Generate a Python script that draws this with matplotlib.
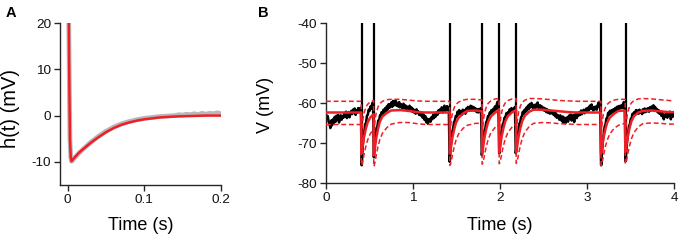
import numpy as np
import matplotlib
matplotlib.use("Agg")
import matplotlib.pyplot as plt

plt.rcParams['font.family'] = ['Liberation Sans', 'DejaVu Sans']
plt.rcParams['axes.unicode_minus'] = False

# ---------------- Panel A data ----------------
kern_t = [0, 0.001, 0.0015, 0.002, 0.0025, 0.003, 0.004, 0.005, 0.006, 0.008, 0.01, 0.015,
          0.02, 0.03, 0.04, 0.05, 0.06, 0.07, 0.08, 0.09, 0.1, 0.12, 0.14, 0.16, 0.18, 0.2]
kern_fit = [40, 30, 20, 10, 2, -5, -9, -9.9, -9.7, -9.3, -8.9, -8.0,
            -7.3, -5.9, -4.7, -3.6, -2.7, -2.0, -1.5, -1.1, -0.8, -0.4, -0.2, -0.1, 0.0, 0.0]
kern_data_t = [0, 0.001, 0.0015, 0.002, 0.0025, 0.003, 0.004, 0.005, 0.006, 0.008, 0.01, 0.015,
               0.02, 0.03, 0.04, 0.05, 0.06, 0.07, 0.08, 0.09, 0.1, 0.11, 0.12, 0.13, 0.14,
               0.145, 0.15, 0.155, 0.16, 0.165, 0.17, 0.175, 0.18, 0.185, 0.19, 0.195, 0.2]
kern_data = [40, 30, 20, 10, 2, -5, -9, -9.9, -9.8, -9.4, -9.0, -8.1,
             -7.3, -5.8, -4.5, -3.4, -2.5, -1.8, -1.3, -0.9, -0.6, -0.4, -0.2, -0.1, 0.0,
             0.2, 0.1, 0.3, 0.2, 0.4, 0.2, 0.5, 0.3, 0.5, 0.4, 0.6, 0.4]

# ---------------- Panel B data ----------------
v_start, v_stop = 0.0, 4.0
v_trace = [
    -62.8, -63.9, -63.2, -64.6, -65.1, -66.2, -64.3, -65.5, -64.0, -64.9,
    -63.4, -64.6, -63.1, -64.2, -62.9, -64.8, -63.5, -63.0, -64.1, -63.3,
    -63.6, -62.4, -63.3, -62.1, -63.7, -62.8, -62.2, -63.5, -62.6, -61.9,
    -62.7, -61.6, -62.4, -61.3, -62.9, -61.8, -62.3, -61.2, -62.0, -61.4,
    -61.1, -75.5, -71.2, -68.8, -67.3, -65.2, -64.9, -63.1, -62.9, -61.6,
    -61.9, -60.8, -61.4, -60.2, -59.7, -73.5, -70.4, -68.3, -66.2, -65.8,
    -64.3, -64.4, -63.0, -63.1, -62.2, -62.9, -61.6, -62.3, -61.2, -61.9,
    -60.7, -61.5, -60.2, -61.1, -60.4, -59.8, -60.9, -59.4, -60.5, -59.6,
    -59.3, -60.6, -59.9, -60.8, -59.7, -61.0, -60.2, -60.7, -61.3, -60.1,
    -61.2, -60.5, -61.6, -60.8, -61.9, -61.1, -60.6, -61.7, -61.0, -62.1,
    -61.4, -62.3, -61.7, -62.6, -61.5, -62.4, -62.0, -62.9, -62.2, -63.1,
    -62.5, -63.6, -62.8, -64.1, -63.2, -64.7, -63.8, -65.1, -64.2, -63.9,
    -64.6, -63.5, -64.0, -62.9, -63.7, -62.6, -63.3, -62.2, -62.9, -61.8,
    -62.4, -61.5, -62.1, -61.0, -62.3, -61.4, -60.6, -61.9, -61.1, -60.7,
    -61.6, -61.0, -74.6, -71.3, -69.2, -67.1, -66.4, -64.7, -64.3, -63.2,
    -63.4, -62.1, -62.8, -61.7, -62.5, -62.0, -62.9, -61.6, -62.4, -61.8,
    -62.6, -61.3, -62.0, -60.9, -61.8, -61.2, -60.6, -61.5, -60.8, -61.7,
    -61.0, -61.9, -61.3, -62.2, -61.5, -62.3, -61.4, -61.9, -61.2, -73.0,
    -70.3, -68.6, -66.8, -66.2, -64.7, -64.3, -63.2, -63.4, -62.3, -62.6,
    -61.7, -62.3, -61.4, -61.9, -60.8, -61.5, -60.4, -59.6, -60.3, -72.5,
    -70.1, -67.9, -66.7, -65.2, -64.8, -63.6, -63.9, -62.5, -63.1, -62.2,
    -62.6, -61.5, -62.3, -61.2, -62.0, -61.4, -61.9, -60.9, -72.5, -70.2,
    -67.8, -66.9, -65.1, -64.8, -63.5, -63.2, -62.1, -62.7, -61.6, -62.2,
    -61.1, -61.8, -60.6, -61.4, -60.2, -61.0, -59.9, -60.7, -61.3, -60.4,
    -61.2, -60.3, -61.0, -59.8, -60.9, -61.6, -60.5, -61.4, -60.8, -61.7,
    -61.1, -61.9, -61.3, -62.2, -61.5, -62.4, -61.8, -62.6, -61.9, -62.5,
    -62.1, -62.8, -62.3, -63.2, -62.5, -63.6, -62.9, -63.4, -64.1, -63.0,
    -63.8, -64.5, -63.3, -64.9, -63.6, -65.0, -64.2, -63.5, -64.6, -63.1,
    -63.9, -62.8, -64.3, -63.4, -62.9, -64.7, -63.2, -62.6, -63.7, -62.4,
    -63.1, -62.2, -62.9, -61.8, -62.7, -62.0, -61.6, -62.5, -61.9, -61.3,
    -62.0, -61.1, -61.7, -60.6, -61.4, -60.3, -61.2, -61.8, -60.9, -61.5,
    -60.8, -61.6, -60.5, -59.8, -60.7, -61.3, -75.5, -72.1, -69.3, -67.8,
    -65.8, -65.3, -63.8, -63.7, -62.4, -62.9, -61.9, -62.6, -61.7, -62.3,
    -61.5, -62.1, -61.2, -61.8, -60.9, -61.6, -60.7, -61.4, -60.6, -61.2,
    -60.4, -61.1, -59.7, -60.6, -74.5, -71.4, -69.1, -67.5, -65.7, -65.2,
    -63.9, -63.8, -62.6, -63.1, -62.2, -62.8, -61.7, -62.5, -61.8, -62.6,
    -61.6, -62.4, -61.9, -62.7, -61.5, -62.3, -61.3, -62.2, -61.4, -62.0,
    -61.2, -62.1, -61.0, -61.8, -60.8, -61.6, -60.5, -61.3, -60.9, -61.9,
    -61.4, -62.3, -61.7, -62.6, -62.0, -63.1, -62.2, -63.4, -64.0, -62.8,
    -63.3, -62.5, -63.6, -62.4, -63.0, -62.1, -64.0, -62.7, -63.4, -62.6,
    -63.0,
]
spike_times = [0.41, 0.55, 1.42, 1.79, 1.99, 2.18, 3.16, 3.44]
spike_trough = [-75.5, -73.5, -74.6, -73.0, -72.5, -72.5, -75.5, -74.5]
spike_peak = [20, 20, 20, 20, 20, 20, 20, 20]

model_t = [
    0.0, 0.405,
    0.406, 0.411, 0.416, 0.426, 0.436, 0.456, 0.476, 0.506, 0.547,
    0.548, 0.553, 0.558, 0.568, 0.578, 0.598, 0.618, 0.648, 0.698, 0.748, 0.848, 0.948, 1.048, 1.148, 1.248, 1.421,
    1.422, 1.427, 1.432, 1.442, 1.452, 1.472, 1.492, 1.522, 1.572, 1.622, 1.722, 1.792,
    1.793, 1.798, 1.803, 1.813, 1.823, 1.843, 1.863, 1.893, 1.943, 1.988,
    1.989, 1.994, 1.999, 2.009, 2.019, 2.039, 2.059, 2.089, 2.139, 2.183,
    2.184, 2.189, 2.194, 2.204, 2.214, 2.234, 2.254, 2.284, 2.334, 2.384, 2.484, 2.584, 2.684, 2.784, 2.884, 3.157,
    3.158, 3.163, 3.168, 3.178, 3.188, 3.208, 3.228, 3.258, 3.308, 3.358, 3.436,
    3.437, 3.442, 3.447, 3.457, 3.467, 3.487, 3.507, 3.537, 3.587, 3.637, 3.737, 3.837, 3.937, 4.0,
]
model_v = [
    -62.3, -62.3,
    -72.6, -72.3, -71.5, -69.9, -68.5, -66.5, -64.9, -63.6, -62.7,
    -73.0, -72.7, -71.9, -70.1, -68.6, -66.3, -64.6, -63.3, -62.4, -61.8, -61.7, -61.9, -62.2, -62.3, -62.3, -62.3,
    -72.6, -72.3, -71.5, -69.9, -68.5, -66.5, -64.9, -63.6, -62.6, -61.9, -61.8, -62.0,
    -72.3, -72.0, -71.2, -69.6, -68.2, -66.2, -64.6, -63.3, -62.3, -61.7,
    -72.2, -71.9, -71.1, -69.5, -68.1, -66.1, -64.5, -63.2, -62.2, -61.7,
    -72.1, -71.8, -71.0, -69.4, -68.0, -66.0, -64.4, -63.1, -62.1, -61.6, -61.6, -61.8, -62.0, -62.2, -62.3, -62.3,
    -72.6, -72.3, -71.5, -69.9, -68.5, -66.5, -64.9, -63.6, -62.6, -61.9, -61.8,
    -72.2, -71.9, -71.1, -69.5, -68.1, -66.1, -64.5, -63.2, -62.3, -61.9, -61.8, -62.0, -62.2, -62.2,
]
model_hi = [
    -59.5, -59.5,
    -69.0, -67.0, -65.5, -63.7, -62.5, -61.1, -60.3, -59.7, -59.25,
    -68.8, -66.8, -65.3, -63.5, -62.3, -60.9, -60.1, -59.5, -59.1, -59.0, -59.0, -59.2, -59.4, -59.5, -59.5, -59.5,
    -69.0, -67.0, -65.5, -63.7, -62.5, -61.1, -60.3, -59.7, -59.2, -59.0, -59.0, -59.2,
    -68.7, -66.7, -65.2, -63.4, -62.2, -60.8, -60.0, -59.4, -58.9, -58.8,
    -68.6, -66.6, -65.1, -63.3, -62.1, -60.7, -59.9, -59.3, -58.9, -58.8,
    -68.5, -66.5, -65.0, -63.2, -62.0, -60.6, -59.8, -59.2, -58.8, -58.8, -58.9, -59.1, -59.3, -59.4, -59.5, -59.5,
    -69.0, -67.0, -65.5, -63.7, -62.5, -61.1, -60.3, -59.7, -59.2, -59.0, -59.0,
    -68.6, -66.6, -65.1, -63.3, -62.1, -60.7, -59.9, -59.3, -58.9, -58.8, -58.9, -59.1, -59.3, -59.4,
]
model_lo = [
    -65.3, -65.3,
    -75.5, -75.4, -75.1, -74.1, -72.9, -70.9, -69.3, -67.7, -66.4,
    -75.8, -75.6, -75.2, -74.1, -72.9, -70.7, -69.1, -67.5, -66.1, -65.2, -64.8, -64.8, -65.1, -65.3, -65.3, -65.3,
    -75.5, -75.4, -75.1, -74.1, -72.9, -70.9, -69.3, -67.7, -66.3, -65.5, -65.0, -65.0,
    -75.2, -75.1, -74.8, -73.8, -72.6, -70.6, -69.0, -67.4, -66.0, -65.2,
    -75.1, -75.0, -74.7, -73.7, -72.5, -70.5, -68.9, -67.3, -65.9, -65.1,
    -75.0, -74.9, -74.6, -73.6, -72.4, -70.4, -68.8, -67.2, -65.8, -65.0, -64.8, -64.9, -65.1, -65.2, -65.3, -65.3,
    -75.5, -75.4, -75.1, -74.1, -72.9, -70.9, -69.3, -67.7, -66.3, -65.5, -65.0,
    -75.1, -75.0, -74.7, -73.7, -72.5, -70.5, -68.9, -67.3, -65.9, -65.1, -64.9, -65.0, -65.2, -65.2,
]

a_xticks = [0, 0.1, 0.2]
a_xticklabels = ['0', '0.1', '0.2']
a_yticks = [-10, 0, 10, 20]
b_xticks = [0, 1, 2, 3, 4]
b_yticks = [-80, -70, -60, -50, -40]

RED = '#ee1f26'
GRAY = '#b8b8b8'
AX = '#262626'

W, H = 680, 242
fig = plt.figure(figsize=(W / 100, H / 100), dpi=100)

def px_box(l, r, t, b):
    return [l / W, 1 - b / H, (r - l) / W, (b - t) / H]

axA = fig.add_axes(px_box(60, 221, 23.3, 184.8))
axB = fig.add_axes(px_box(326, 674.3, 23.3, 183.3))

for ax in (axA, axB):
    for s in ('top', 'right'):
        ax.spines[s].set_visible(False)
    for s in ('left', 'bottom'):
        ax.spines[s].set_color(AX)
        ax.spines[s].set_linewidth(1.0)
    ax.tick_params(direction='out', length=4, width=1.0, color=AX,
                   labelsize=9.7, labelcolor='#111111', pad=2.5)

# Panel A
axA.plot(kern_data_t, kern_data, color=GRAY, lw=3.4, solid_capstyle='butt', zorder=2)
axA.plot(kern_t, kern_fit, color=RED, lw=1.8, zorder=3)
axA.set_xlim(-0.01, 0.2)
axA.set_ylim(-15, 20)
axA.set_xticks(a_xticks)
axA.set_xticklabels(a_xticklabels)
axA.set_yticks(a_yticks)

# Panel B
n = len(v_trace)
v_t = np.linspace(v_start, v_stop, n)
axB.plot(v_t, v_trace, color='black', lw=1.8, zorder=2)
axB.vlines(spike_times, spike_trough, spike_peak, color='black', lw=1.6, zorder=2)
axB.plot(model_t, model_hi, color=RED, lw=1.1, ls=(0, (3.2, 1.8)), zorder=3)
axB.plot(model_t, model_lo, color=RED, lw=1.1, ls=(0, (3.2, 1.8)), zorder=3)
axB.plot(model_t, model_v, color=RED, lw=1.8, zorder=4)
axB.set_xlim(0, 4)
axB.set_ylim(-80, -40)
axB.set_xticks(b_xticks)
axB.set_yticks(b_yticks)

# labels
fig.text(140.5 / W, 1 - 230 / H, 'Time (s)', ha='center', va='baseline', fontsize=13)
fig.text(500 / W, 1 - 230 / H, 'Time (s)', ha='center', va='baseline', fontsize=13)
fig.text(11 / W, 1 - 109 / H, 'h(t) (mV)', ha='center', va='center', rotation=90, fontsize=14.5)
fig.text(266 / W, 1 - 105 / H, 'V (mV)', ha='center', va='center', rotation=90, fontsize=13)
fig.text(6 / W, 1 - 17 / H, 'A', ha='left', va='baseline', fontsize=10.5, fontweight='bold')
fig.text(258 / W, 1 - 17 / H, 'B', ha='left', va='baseline', fontsize=10.5, fontweight='bold')

fig.savefig('out.png', dpi=100)
